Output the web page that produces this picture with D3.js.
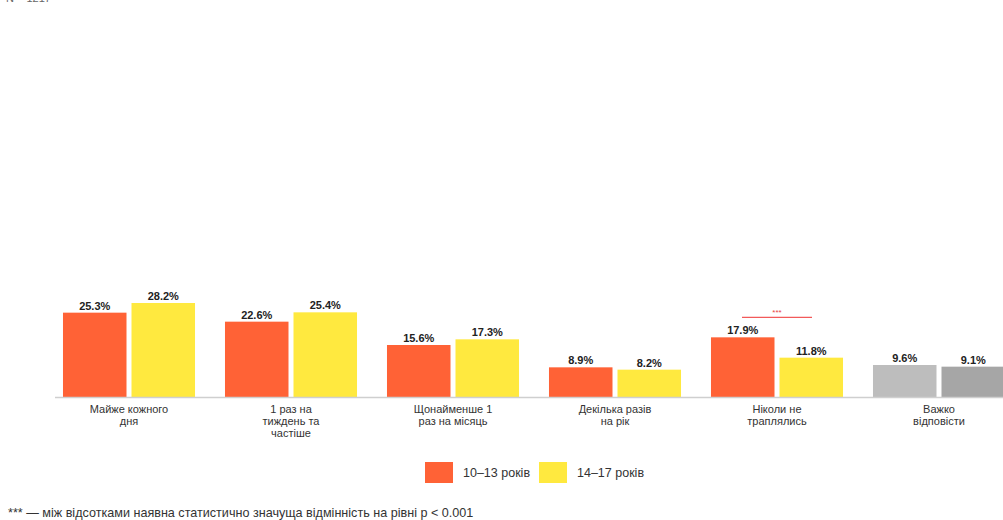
<!DOCTYPE html>
<html><head><meta charset="utf-8">
<script src="https://cdn.jsdelivr.net/npm/d3@7"></script>
<style>body{margin:0;background:#fff}svg{display:block;font-family:"Liberation Sans",Arial,sans-serif}</style>
</head><body><svg id="c" width="1003" height="520"></svg>
<script>
const categories = [["Майже кожного","дня"],["1 раз на","тиждень та","частіше"],["Щонайменше 1","раз на місяць"],["Декілька разів","на рік"],["Ніколи не","траплялись"],["Важко","відповісти"]];
const seriesNames = ["10–13 років","14–17 років"];
const younger = [25.3,22.6,15.6,8.9,17.9,9.6];
const older = [28.2,25.4,17.3,8.2,11.8,9.1];
const significant = [false,false,false,false,true,false];
const colors = ["#FF6236","#FFE93F"];
const grayColors = ["#BDBDBD","#A6A6A6"];

const svg = d3.select("#c");
const base = 397;
const x0 = d3.scaleBand().domain(d3.range(categories.length)).range([48,1020]).paddingInner(0.185).paddingOuter(0.0925);
const x1 = d3.scaleBand().domain([0,1]).range([0,x0.bandwidth()]).paddingInner(0.073);
const y = d3.scaleLinear().domain([0,30]).range([base, base-100]);

svg.append("text").attr("x",6).attr("y",2).attr("font-size",11).attr("fill","#666").text("N = 1217");

const data = categories.map((c,i)=>({i, vals:[younger[i],older[i]]}));
const g = svg.selectAll("g.grp").data(data).join("g").attr("transform",d=>`translate(${x0(d.i)},0)`);
g.selectAll("rect").data(d=>d.vals.map((v,k)=>({v,k,i:d.i}))).join("rect")
  .attr("x",d=>x1(d.k)).attr("width",x1.bandwidth())
  .attr("y",d=>y(d.v)).attr("height",d=>base-y(d.v))
  .attr("fill",d=>d.i===categories.length-1?grayColors[d.k]:colors[d.k]);
g.selectAll("text.val").data(d=>d.vals.map((v,k)=>({v,k}))).join("text").attr("class","val")
  .attr("x",d=>x1(d.k)+x1.bandwidth()/2).attr("y",d=>y(d.v)-3)
  .attr("text-anchor","middle").attr("font-size",11).attr("font-weight","bold").attr("fill","#222")
  .text(d=>d.v.toFixed(1)+"%");

svg.append("line").attr("x1",55).attr("x2",1003).attr("y1",base+0.5).attr("y2",base+0.5).attr("stroke","#cfcfcf").attr("stroke-width",1.5);

categories.forEach((c,i)=>{
  const t = svg.append("text").attr("text-anchor","middle").attr("font-size",11).attr("fill","#333")
    .attr("x",x0(i)+x0.bandwidth()/2).attr("y",413);
  c.forEach((line,j)=>t.append("tspan").attr("x",x0(i)+x0.bandwidth()/2).attr("dy",j===0?0:12).text(line));
});

significant.forEach((s,i)=>{
  if(!s) return;
  const cx = x0(i)+x0.bandwidth()/2;
  const top = y(Math.max(younger[i],older[i]));
  svg.append("line").attr("x1",cx-35).attr("x2",cx+35).attr("y1",top-20).attr("y2",top-20).attr("stroke","#F25A5A").attr("stroke-width",1.2);
  svg.append("text").attr("x",cx).attr("y",top-22).attr("text-anchor","middle").attr("font-size",8).attr("fill","#E84545").text("***");
});

const leg = svg.append("g");
const legX = [425,539];
seriesNames.forEach((n,k)=>{
  leg.append("rect").attr("x",legX[k]).attr("y",462).attr("width",28).attr("height",21).attr("fill",colors[k]);
  leg.append("text").attr("x",legX[k]+38).attr("y",477).attr("font-size",12.5).attr("fill","#333").text(n);
});

svg.append("text").attr("x",8).attr("y",517).attr("font-size",12.6).attr("fill","#333").text("*** — між відсотками наявна статистично значуща відмінність на рівні p < 0.001");
</script></body></html>
